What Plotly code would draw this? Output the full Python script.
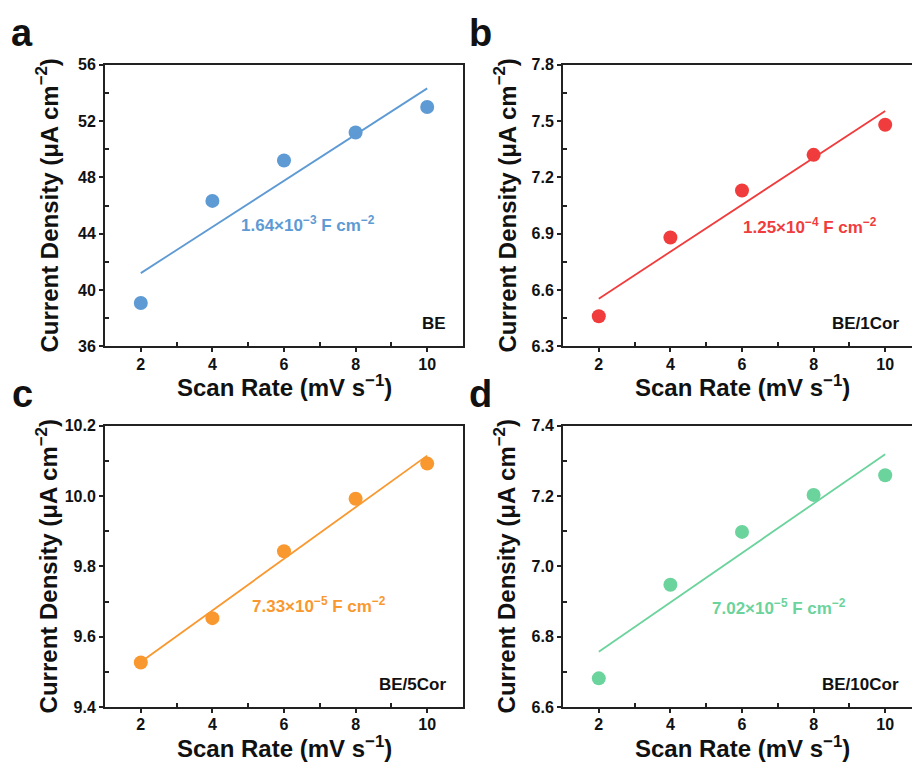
import math
import plotly.graph_objects as go

# Scan rates (mV s^-1)
scan_rate = [2, 4, 6, 8, 10]

# Double-layer charging current density (uA cm^-2) per electrode
current_be = [39.08, 46.33, 49.20, 51.19, 53.00]
current_be1 = [6.46, 6.88, 7.13, 7.32, 7.48]
current_be5 = [9.527, 9.653, 9.843, 9.992, 10.092]
current_be10 = [6.682, 6.948, 7.098, 7.203, 7.259]

# Double-layer capacitance from the linear fits (F cm^-2)
cdl = [1.64e-3, 1.25e-4, 7.33e-5, 7.02e-5]

samples = ["BE", "BE/1Cor", "BE/5Cor", "BE/10Cor"]
panel_letters = ["a", "b", "c", "d"]
y_ranges = [[36, 56], [6.3, 7.8], [9.4, 10.2], [6.6, 7.4]]
y_ticks = [[36, 40, 44, 48, 52, 56],
           [6.3, 6.6, 6.9, 7.2, 7.5, 7.8],
           [9.4, 9.6, 9.8, 10.0, 10.2],
           [6.6, 6.8, 7.0, 7.2, 7.4]]
y_ticktext = [[str(v) for v in y_ticks[0]],
              [f"{v:.1f}" for v in y_ticks[1]],
              [f"{v:.1f}" for v in y_ticks[2]],
              [f"{v:.1f}" for v in y_ticks[3]]]
x_ticks = [2, 4, 6, 8, 10]
colors = ["#5e9ad3", "#f03c3c", "#f9982f", "#6bd39c"]

# slope-label placement (data coords) and sample-label x (data coords)
label_pos = [(6.68, 44.7), (7.91, 6.942), (6.99, 9.691), (7.04, 6.884)]
sample_x = [10.57, 10.43, 10.57, 10.43]

W, H = 912, 769
FONT = "Arial, Liberation Sans, sans-serif"
AXC = "#222222"

# panel boxes in pixels: left, right, top, bottom
boxes = [(105, 463, 58, 346), (563, 912, 58, 346),
         (105, 463, 427, 715), (563, 912, 427, 715)]
px_per_x = (463 - 105) / 10.0

series = [current_be, current_be1, current_be5, current_be10]

fig = go.Figure()
layout = dict(
    width=W, height=H, margin=dict(l=0, r=0, t=0, b=0),
    paper_bgcolor="white", plot_bgcolor="white", showlegend=False,
    annotations=[],
)

for i in range(4):
    k = i + 1
    xs = "" if k == 1 else str(k)
    left, right, top, bottom = boxes[i]
    xdom = [left / W, right / W]
    ydom = [1 - bottom / H, 1 - top / H]
    xr = [1, 1 + (right - left) / px_per_x]
    yv = series[i]

    # scatter points
    fig.add_trace(go.Scatter(
        x=scan_rate, y=yv, mode="markers",
        marker=dict(size=14, color=colors[i], line=dict(width=0)),
        xaxis="x" + xs, yaxis="y" + xs, hoverinfo="skip"))

    # fitted line with slope equal to the stated capacitance
    slope = cdl[i] * 1e3  # uA cm^-2 per mV s^-1
    xm = sum(scan_rate) / len(scan_rate)
    ym = sum(yv) / len(yv)
    fit_x = [scan_rate[0], scan_rate[-1]]
    fit_y = [ym + slope * (x - xm) for x in fit_x]
    fig.add_trace(go.Scatter(
        x=fit_x, y=fit_y, mode="lines",
        line=dict(color=colors[i], width=1.8),
        xaxis="x" + xs, yaxis="y" + xs, hoverinfo="skip"))

    tickfont = dict(family=FONT, size=16, color="#111111", weight="bold")
    layout["xaxis" + xs] = dict(
        domain=xdom, anchor="y" + xs, range=xr,
        tickmode="array", tickvals=x_ticks, ticktext=[str(v) for v in x_ticks],
        ticks="outside", ticklen=4, tickwidth=1.5, tickcolor=AXC,
        minor=dict(ticks="inside", tickmode="array", tickvals=[3, 5, 7, 9],
                   ticklen=4, tickwidth=1.5, tickcolor=AXC),
        showline=True, linecolor=AXC, linewidth=2, mirror=True,
        showgrid=False, zeroline=False, tickfont=tickfont,
        ticklabelstandoff=-2, fixedrange=True)
    ymin, ymax = y_ranges[i]
    ystep = (y_ticks[i][1] - y_ticks[i][0]) / 2
    yminor = [y_ticks[i][j] + ystep for j in range(len(y_ticks[i]) - 1)]
    layout["yaxis" + xs] = dict(
        domain=ydom, anchor="x" + xs, range=[ymin, ymax],
        tickmode="array", tickvals=y_ticks[i], ticktext=y_ticktext[i],
        ticks="outside", ticklen=4, tickwidth=1.5, tickcolor=AXC,
        minor=dict(ticks="inside", tickmode="array", tickvals=yminor,
                   ticklen=4, tickwidth=1.5, tickcolor=AXC),
        showline=True, linecolor=AXC, linewidth=2,
        mirror=(i % 2 == 0),
        showgrid=False, zeroline=False, tickfont=tickfont,
        fixedrange=True)

    # overlay axes carrying the inward half of the major ticks
    ox = str(k + 4)
    layout["xaxis" + ox] = dict(
        overlaying="x" + xs, anchor="y" + xs, range=xr,
        tickmode="array", tickvals=x_ticks, ticks="inside", ticklen=4,
        tickwidth=1.5, tickcolor=AXC, showticklabels=False,
        showline=False, showgrid=False, zeroline=False, fixedrange=True)
    layout["yaxis" + ox] = dict(
        overlaying="y" + xs, anchor="x" + xs, range=[ymin, ymax],
        tickmode="array", tickvals=y_ticks[i], ticks="inside", ticklen=4,
        tickwidth=1.5, tickcolor=AXC, showticklabels=False,
        showline=False, showgrid=False, zeroline=False, fixedrange=True)

    ann = layout["annotations"]
    # panel letter
    ann.append(dict(text=f"<b>{panel_letters[i]}</b>", xref="paper", yref="paper",
                    x=(left - 83) / W, y=1 - (top - 32) / H,
                    xanchor="center", yanchor="middle", showarrow=False,
                    font=dict(family=FONT, size=38, color="#111111")))
    # y-axis title
    ann.append(dict(text="<b>Current Density (μA cm<sup>−2</sup>)</b>",
                    xref="paper", yref="paper",
                    x=(left - 58) / W, y=1 - (top + bottom) / 2 / H,
                    xanchor="center", yanchor="middle", textangle=-90,
                    showarrow=False,
                    font=dict(family=FONT, size=24, color="#111111")))
    # x-axis title
    ann.append(dict(text="<b>Scan Rate (mV s<sup>−1</sup>)</b>",
                    xref="paper", yref="paper",
                    x=(105 + 463) / 2 / W + (left - 105) / W,
                    y=1 - (bottom + 41) / H,
                    xanchor="center", yanchor="middle", showarrow=False,
                    font=dict(family=FONT, size=24, color="#111111")))
    # capacitance label
    exp = math.floor(math.log10(cdl[i]))
    mant = cdl[i] / 10 ** exp
    ann.append(dict(text=f"<b>{mant:.2f}×10<sup>−{-exp}</sup> F cm<sup>−2</sup></b>",
                    xref="x" + xs, yref="y" + xs,
                    x=label_pos[i][0], y=label_pos[i][1],
                    xanchor="center", yanchor="middle", showarrow=False,
                    font=dict(family=FONT, size=17, color=colors[i])))
    # sample label
    ann.append(dict(text=f"<b>{samples[i]}</b>",
                    xref="x" + xs, yref="y" + xs + " domain",
                    x=sample_x[i], y=0.08,
                    xanchor="right", yanchor="middle", showarrow=False,
                    font=dict(family=FONT, size=17, color="#111111")))

fig.update_layout(**layout)
fig.write_html("out.html")
